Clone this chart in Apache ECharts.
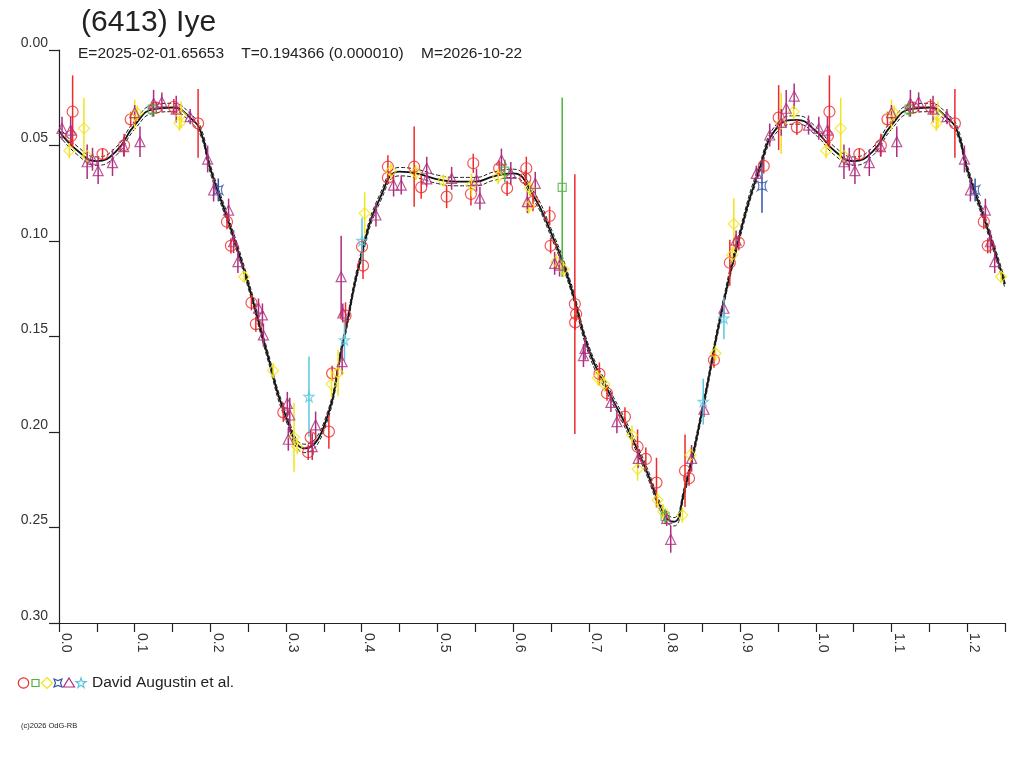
<!DOCTYPE html>
<html>
<head>
<meta charset="utf-8">
<title>(6413) Iye</title>
<script src="https://cdn.jsdelivr.net/npm/echarts@6/dist/echarts.min.js"></script>
<style>
  html, body { margin: 0; padding: 0; background: #fff; }
  #chart { width: 1024px; height: 768px; }
</style>
</head>
<body>
<div id="chart"></div>
<script>
// phase-folded lightcurve, points are [phase, mag, err]
const redPts = [
  [0.018, 0.0323, 0.019], [0.016, 0.0450, 0.005], [0.0575, 0.0545, 0.003], [0.086, 0.0499, 0.006],
  [0.0947, 0.0363, 0.004], [0.1286, 0.0302, 0.003], [0.1517, 0.0297, 0.004], [0.1838, 0.0384, 0.018],
  [0.222, 0.0899, 0.004], [0.2272, 0.1025, 0.004], [0.2543, 0.1323, 0.004], [0.2601, 0.1435, 0.004],
  [0.2964, 0.1897, 0.005], [0.3325, 0.2028, 0.004], [0.3293, 0.2106, 0.004], [0.3566, 0.1998, 0.009],
  [0.3609, 0.1693, 0.004], [0.3786, 0.1391, 0.007], [0.4017, 0.1129, 0.007], [0.4004, 0.1030, 0.004],
  [0.4346, 0.0611, 0.006], [0.4346, 0.0669, 0.003], [0.4693, 0.0611, 0.021], [0.4786, 0.0719, 0.006],
  [0.5122, 0.0768, 0.006], [0.5474, 0.0593, 0.005], [0.5443, 0.0754, 0.006], [0.5816, 0.0619, 0.004],
  [0.5921, 0.0724, 0.004], [0.6175, 0.0619, 0.006], [0.6162, 0.0672, 0.004], [0.6263, 0.0794, 0.005],
  [0.6483, 0.0869, 0.005], [0.6496, 0.1025, 0.004], [0.6816, 0.1330, 0.068], [0.6833, 0.1382, 0.004],
  [0.6820, 0.1426, 0.004], [0.7141, 0.1696, 0.006], [0.7241, 0.1797, 0.004], [0.7478, 0.1920, 0.005],
  [0.7645, 0.2077, 0.009], [0.7754, 0.2141, 0.006], [0.7895, 0.2265, 0.013], [0.8272, 0.2203, 0.019],
  [0.8325, 0.2242, 0.004], [0.8654, 0.1623, 0.004], [0.8864, 0.1114, 0.012], [0.8983, 0.1009, 0.004],
  [0.9312, 0.0607, 0.004], [0.9509, 0.0354, 0.017], [0.9750, 0.0405, 0.004]
];
const greenPts = [
  [0.1233, 0.0310, 0.004], [0.5891, 0.0634, 0.006], [0.6649, 0.0719, 0.047], [0.8009, 0.2443, 0.004]
];
const yellowPts = [
  [0.0136, 0.0527, 0.004], [0.0329, 0.0410, 0.016], [0.0372, 0.0555, 0.004], [0.1000, 0.0340, 0.008],
  [0.1036, 0.0331, 0.004], [0.1614, 0.0340, 0.007], [0.1592, 0.0384, 0.004], [0.2447, 0.1187, 0.003],
  [0.2829, 0.1679, 0.004], [0.3105, 0.2028, 0.018], [0.3149, 0.2077, 0.004], [0.3601, 0.1749, 0.007],
  [0.3688, 0.1690, 0.012], [0.4039, 0.0855, 0.011], [0.4386, 0.0634, 0.004], [0.4714, 0.0642, 0.004],
  [0.5079, 0.0684, 0.003], [0.5451, 0.0707, 0.006], [0.5803, 0.0663, 0.004], [0.6220, 0.0724, 0.004],
  [0.6207, 0.0817, 0.004], [0.6570, 0.1108, 0.004], [0.6667, 0.1148, 0.004], [0.7118, 0.1716, 0.004],
  [0.7207, 0.1750, 0.004], [0.7570, 0.2016, 0.005], [0.7645, 0.2195, 0.006], [0.7908, 0.2356, 0.004],
  [0.7983, 0.2417, 0.004], [0.8237, 0.2435, 0.004], [0.8346, 0.2120, 0.004], [0.8675, 0.1588, 0.004],
  [0.8895, 0.1073, 0.004], [0.8917, 0.0911, 0.0135], [0.9543, 0.0384, 0.016], [0.9707, 0.0323, 0.004]
];
const bluePts = [
  [0.2105, 0.0733, 0.006], [0.9289, 0.0712, 0.014]
];
const purplePts = [
  [0.004, 0.0410, 0.006], [0.0154, 0.0419, 0.007], [0.0372, 0.0585, 0.009], [0.0443, 0.0572, 0.006],
  [0.0517, 0.0632, 0.007], [0.0707, 0.0590, 0.007], [0.0855, 0.0506, 0.005], [0.1070, 0.0480, 0.008],
  [0.1000, 0.0328, 0.004], [0.1250, 0.0279, 0.007], [0.1359, 0.0272, 0.005], [0.1549, 0.0310, 0.007],
  [0.1733, 0.0349, 0.004], [0.1964, 0.0571, 0.007], [0.2043, 0.0733, 0.006], [0.2241, 0.0838, 0.006],
  [0.2307, 0.1004, 0.006], [0.2364, 0.1108, 0.006], [0.2636, 0.1351, 0.005], [0.2688, 0.1387, 0.006],
  [0.2701, 0.1492, 0.006], [0.3017, 0.1850, 0.006], [0.3049, 0.1911, 0.009], [0.3030, 0.2038, 0.006],
  [0.3346, 0.2077, 0.007], [0.3391, 0.1963, 0.007], [0.3728, 0.1187, 0.0215], [0.3750, 0.1377, 0.005],
  [0.3741, 0.1632, 0.007], [0.4188, 0.0864, 0.006], [0.4421, 0.0707, 0.006], [0.4522, 0.0707, 0.005],
  [0.4859, 0.0619, 0.006], [0.4859, 0.0675, 0.004], [0.5188, 0.0672, 0.006], [0.5517, 0.0681, 0.006],
  [0.5562, 0.0776, 0.006], [0.5846, 0.0576, 0.006], [0.5970, 0.0646, 0.006], [0.6293, 0.0698, 0.006],
  [0.6188, 0.0794, 0.006], [0.6549, 0.1117, 0.006], [0.6614, 0.1126, 0.006], [0.6951, 0.1562, 0.006],
  [0.6930, 0.1600, 0.006], [0.7293, 0.1845, 0.005], [0.7372, 0.1946, 0.006], [0.7654, 0.2138, 0.005],
  [0.8030, 0.2452, 0.004], [0.8083, 0.2562, 0.007], [0.8359, 0.2138, 0.007], [0.8522, 0.1881, 0.004],
  [0.8786, 0.1352, 0.004], [0.8947, 0.0995, 0.005], [0.9214, 0.0646, 0.004], [0.9391, 0.0445, 0.006],
  [0.9543, 0.0379, 0.007], [0.9609, 0.0305, 0.0096], [0.9714, 0.0241, 0.0065], [0.9904, 0.0393, 0.005]
];
const cyanPts = [
  [0.3303, 0.1815, 0.021], [0.3772, 0.1518, 0.011], [0.4004, 0.0998, 0.012],
  [0.8513, 0.1841, 0.012], [0.8786, 0.1405, 0.011]
];

// fitted curve
const curvePhase = [0, 0.025, 0.05, 0.075, 0.1, 0.125, 0.15, 0.175, 0.1875, 0.2, 0.225, 0.25, 0.275, 0.3,
  0.325, 0.35, 0.375, 0.4, 0.425, 0.45, 0.475, 0.5, 0.525, 0.55, 0.575, 0.6, 0.625, 0.65, 0.675,
  0.7, 0.725, 0.75, 0.775, 0.8, 0.8125, 0.825, 0.85, 0.875, 0.9, 0.925, 0.95, 0.975, 1.0];
const curveMag = [0.0424, 0.0529, 0.0582, 0.0532, 0.0393, 0.0309, 0.0301, 0.0361, 0.0430, 0.0623, 0.0911, 0.1225,
  0.1588, 0.1920, 0.2086, 0.1972, 0.1536, 0.1068, 0.0768, 0.0637, 0.0649, 0.0677, 0.0689, 0.0689,
  0.0660, 0.0646, 0.0750, 0.0955, 0.1222, 0.1570, 0.1780, 0.1972, 0.2190, 0.2435, 0.2470, 0.2330,
  0.1887, 0.1379, 0.0960, 0.0628, 0.0401, 0.0366, 0.0424];
const curveSpread = 0.0022;

const xTickLabels = ['0.0', '0.1', '0.2', '0.3', '0.4', '0.5', '0.6', '0.7', '0.8', '0.9', '1.0', '1.1', '1.2'];

const X_MAX = 1.25;
const FONT = 'Liberation Sans, Arial, sans-serif';

// repeat the start of the cycle past phase 1
function wrap(rows) {
  let out = rows.slice();
  rows.forEach(r => {
    if (r[0] > 0 && r[0] + 1 <= X_MAX) out.push([r[0] + 1].concat(r.slice(1)));
  });
  return out;
}

let curveRows = wrap(curvePhase.map((p, i) => [p, curveMag[i]]));
let curveHi = curveRows.map(r => [r[0], r[1] - curveSpread]);
let curveLo = curveRows.map(r => [r[0], r[1] + curveSpread]);

const STAR4 = 'path://M0,0 Q5,3 10,0 Q7,5 10,10 Q5,7 0,10 Q3,5 0,0 Z';
const STAR5 = 'path://M5,0 L6.2,3.6 L10,3.6 L7,5.9 L8.1,9.5 L5,7.3 L1.9,9.5 L3,5.9 L0,3.6 L3.8,3.6 Z';

const groups = [
  { name: 'red', rows: redPts, color: '#ee2a2a', symbol: 'circle', size: 11 },
  { name: 'green', rows: greenPts, color: '#4cb43c', symbol: 'rect', size: 8 },
  { name: 'yellow', rows: yellowPts, color: '#f2e41a', symbol: 'diamond', size: 11 },
  { name: 'blue', rows: bluePts, color: '#3552a8', symbol: STAR4, size: 9 },
  { name: 'purple', rows: purplePts, color: '#ad2d7e', symbol: 'triangle', size: 10 },
  { name: 'cyan', rows: cyanPts, color: '#5cc6e0', symbol: STAR5, size: 10 }
];

function errSeries(g) {
  return {
    type: 'custom',
    name: g.name + '-err',
    data: wrap(g.rows),
    clip: true,
    silent: true,
    z: 3,
    encode: { x: 0, y: 1 },
    renderItem: function (params, api) {
      let x = api.value(0), y = api.value(1), e = api.value(2);
      let a = api.coord([x, y - e]);
      let b = api.coord([x, y + e]);
      return {
        type: 'line',
        shape: { x1: a[0], y1: a[1], x2: b[0], y2: b[1] },
        style: { stroke: g.color, lineWidth: 1.5 }
      };
    }
  };
}

function pointSeries(g) {
  return {
    type: 'scatter',
    name: g.name,
    data: wrap(g.rows).map(r => [r[0], r[1]]),
    symbol: g.symbol,
    symbolSize: g.size,
    clip: true,
    z: 4,
    itemStyle: { color: 'rgba(0,0,0,0)', borderColor: g.color, borderWidth: 1.2 }
  };
}

let series = [
  { type: 'line', data: curveRows, smooth: true, symbol: 'none', z: 2, silent: true,
    lineStyle: { color: '#111', width: 1.8 } },
  { type: 'line', data: curveHi, smooth: true, symbol: 'none', z: 2, silent: true,
    lineStyle: { color: '#222', width: 1, type: [4, 2] } },
  { type: 'line', data: curveLo, smooth: true, symbol: 'none', z: 2, silent: true,
    lineStyle: { color: '#222', width: 1, type: [4, 2] } }
];
groups.forEach(g => { series.push(errSeries(g)); });
groups.forEach(g => { series.push(pointSeries(g)); });

// legend drawn by hand: six symbols then one observer name
let ly = 683;
let star5 = [[5, 0], [6.2, 3.6], [10, 3.6], [7, 5.9], [8.1, 9.5], [5, 7.3], [1.9, 9.5], [3, 5.9], [0, 3.6], [3.8, 3.6]]
  .map(p => [76 + p[0], ly - 5 + p[1]]);
let legendItems = [
  { type: 'circle', shape: { cx: 23.5, cy: ly, r: 5.2 }, style: { fill: 'none', stroke: '#ee2a2a', lineWidth: 1.2 } },
  { type: 'rect', shape: { x: 32, y: ly - 3.5, width: 7, height: 7 }, style: { fill: 'none', stroke: '#4cb43c', lineWidth: 1.2 } },
  { type: 'polygon', shape: { points: [[47, ly - 5.5], [52.5, ly], [47, ly + 5.5], [41.5, ly]] }, style: { fill: 'none', stroke: '#f2e41a', lineWidth: 1.2 } },
  { type: 'polygon', shape: { points: [[54, ly - 4], [58, ly - 2.5], [62, ly - 4], [60.5, ly], [62, ly + 4], [58, ly + 2.5], [54, ly + 4], [55.5, ly]] }, style: { fill: 'none', stroke: '#3552a8', lineWidth: 1.2 } },
  { type: 'polygon', shape: { points: [[69, ly - 5], [74.5, ly + 4], [63.5, ly + 4]] }, style: { fill: 'none', stroke: '#ad2d7e', lineWidth: 1.2 } },
  { type: 'polygon', shape: { points: star5 }, style: { fill: 'none', stroke: '#5cc6e0', lineWidth: 1.2 } },
  { type: 'text', x: 92, y: ly - 8, style: { text: 'David Augustin et al.', fill: '#222', font: '15.5px ' + FONT } },
  { type: 'text', x: 21, y: 722, style: { text: '(c)2026 OdG-RB', fill: '#222', font: '7.5px ' + FONT } }
];

let chart = echarts.init(document.getElementById('chart'));
let option = {
  animation: false,
  backgroundColor: '#fff',
  title: [
    { text: '(6413) Iye', left: 76, top: 3,
      textStyle: { fontFamily: FONT, fontSize: 30, fontWeight: 'normal', color: '#222' } },
    { text: 'E=2025-02-01.65653    T=0.194366 (0.000010)    M=2026-10-22', left: 73, top: 41,
      textStyle: { fontFamily: FONT, fontSize: 15.5, fontWeight: 'normal', color: '#222' } }
  ],
  grid: { left: 59, right: 19, top: 50, bottom: 145 },
  xAxis: {
    type: 'value', min: 0, max: X_MAX, interval: 0.05, position: 'bottom',
    splitLine: { show: false },
    axisLine: { onZero: false, lineStyle: { color: '#222', width: 1.2 } },
    axisTick: { length: 9, lineStyle: { color: '#222', width: 1.2 } },
    axisLabel: {
      rotate: -90, margin: 10, verticalAlign: 'bottom', align: 'left',
      fontFamily: FONT, fontSize: 14, color: '#333',
      formatter: function (v) {
        let k = Math.round(v * 20);
        return k % 2 === 0 ? xTickLabels[k / 2] || '' : '';
      }
    }
  },
  yAxis: {
    type: 'value', inverse: true, min: 0, max: 0.3, interval: 0.05,
    splitLine: { show: false },
    axisLine: { show: true, lineStyle: { color: '#222', width: 1.2 } },
    axisTick: { show: true, length: 10, lineStyle: { color: '#222', width: 1.2 } },
    axisLabel: {
      margin: 11, verticalAlign: 'bottom', fontFamily: FONT, fontSize: 14, color: '#333',
      formatter: function (v) { return v.toFixed(2); }
    }
  },
  graphic: legendItems,
  series: series
};
chart.setOption(option);
</script>
</body>
</html>
